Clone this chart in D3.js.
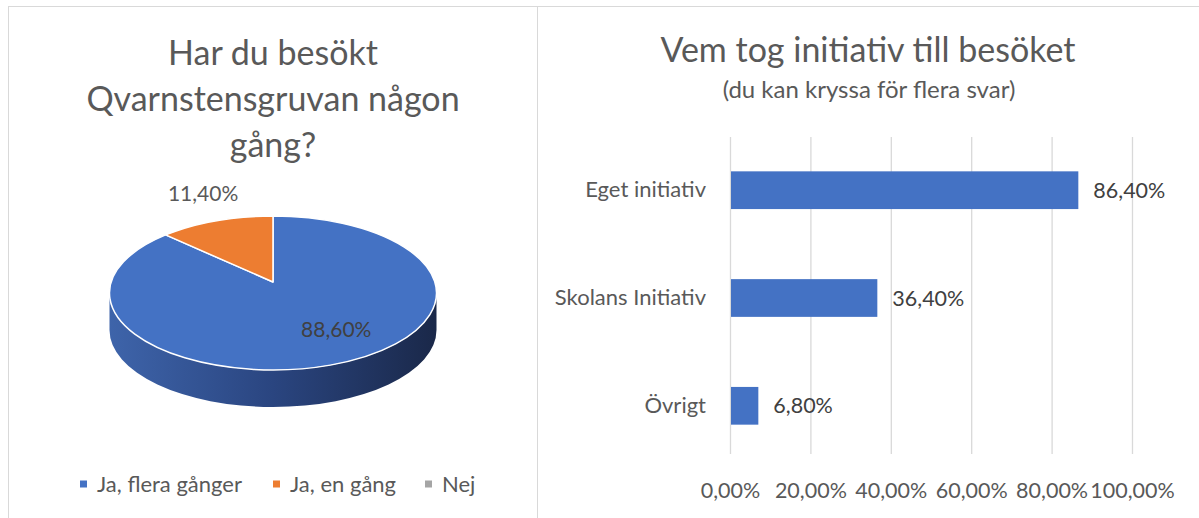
<!DOCTYPE html>
<html>
<head>
<meta charset="utf-8">
<script src="https://cdn.jsdelivr.net/npm/d3@7"></script>
<style>
  body { margin: 0; background: #fff; }
  svg { display: block; font-family: Lato, "Open Sans", sans-serif; }
</style>
</head>
<body>
<script>
// pie data
var pieCategories = ["Ja, flera gånger", "Ja, en gång", "Nej"];
var pieValues = [0.886, 0.114, 0];
var pieColors = ["#4472C4", "#ED7D31", "#A5A5A5"];

// bar data
var barCategories = ["Eget initiativ", "Skolans Initiativ", "Övrigt"];
var barValues = [0.864, 0.364, 0.068];
var tickValues = [0, 0.2, 0.4, 0.6, 0.8, 1.0];

var width = 1199, height = 518;
var textColor = "#595959", lineColor = "#d9d9d9";

var sv = d3.formatLocale({decimal: ",", thousands: " ", grouping: [3], currency: ["", " kr"]});
var pct = sv.format(".2%");

var svg = d3.select("body").append("svg").attr("width", width).attr("height", height);

// ramar
svg.append("line").attr("x1", 8).attr("x2", width).attr("y1", 6.5).attr("y2", 6.5).attr("stroke", lineColor);
svg.append("line").attr("x1", 8.5).attr("x2", 8.5).attr("y1", 6).attr("y2", height).attr("stroke", lineColor);
svg.append("line").attr("x1", 537.5).attr("x2", 537.5).attr("y1", 6).attr("y2", height).attr("stroke", lineColor);

// ---------- vänster: 3D-tårta ----------
var left = svg.append("g");
var titleLines = ["Har du besökt", "Qvarnstensgruvan någon", "gång?"];
left.selectAll("text.title").data(titleLines).enter().append("text")
  .attr("class", "title")
  .attr("x", 273).attr("y", function(d, i) { return 65 + i * 46; })
  .attr("text-anchor", "middle").attr("font-size", 34).attr("fill", textColor)
  .text(function(d) { return d; });

var cx = 273, cy = 293, rx = 163.5, ry = 77, depth = 37, apexY = 282;
var pie = d3.pie().sort(null);
var arcs = pie(pieValues);

var defs = svg.append("defs");
var grad = defs.append("linearGradient").attr("id", "side").attr("x1", "0%").attr("x2", "100%");
grad.append("stop").attr("offset", "0%").attr("stop-color", "#3e64aa");
grad.append("stop").attr("offset", "50%").attr("stop-color", "#2a4580");
grad.append("stop").attr("offset", "100%").attr("stop-color", "#1a2849");

function pt(a, dy) { return [cx + rx * Math.sin(a), cy - ry * Math.cos(a) + dy]; }

// sidan (synlig framkant mellan 90° och 270°)
arcs.forEach(function(a, i) {
  var s = Math.max(a.startAngle, Math.PI / 2), e = Math.min(a.endAngle, 3 * Math.PI / 2);
  if (e <= s) return;
  var p1 = pt(s, 0), p2 = pt(e, 0), p3 = pt(e, depth), p4 = pt(s, depth);
  var dpath = "M" + p1 + "A" + rx + "," + ry + " 0 0 1 " + p2 + "L" + p3 +
              "A" + rx + "," + ry + " 0 0 0 " + p4 + "Z";
  left.append("path").attr("d", dpath).attr("fill", i === 0 ? "url(#side)" : pieColors[i]);
});

// ovansidan, med spetsen lite bakåt (perspektiv)
function slicePath(a) {
  var large = (a.endAngle - a.startAngle) > Math.PI ? 1 : 0;
  return "M" + [cx, apexY] + "L" + pt(a.startAngle, 0) +
         "A" + rx + "," + ry + " 0 " + large + " 1 " + pt(a.endAngle, 0) + "Z";
}
left.append("g").selectAll("path").data(arcs.filter(function(d) { return d.value > 0; })).enter().append("path")
  .attr("d", slicePath)
  .attr("fill", function(d) { return pieColors[d.index]; })
  .attr("stroke", "#fff").attr("stroke-width", 1.5).attr("stroke-linejoin", "round");

// etiketter
var labelRadius = [0.72, 1.36];
arcs.forEach(function(a, i) {
  if (a.value <= 0) return;
  var m = (a.startAngle + a.endAngle) / 2, r = labelRadius[i];
  var lx = cx + rx * r * Math.sin(m) + (i === 0 ? 22 : 8);
  var ly = cy - ry * r * Math.cos(m) + (i === 0 ? -15 : -1);
  left.append("text").attr("x", lx).attr("y", ly).attr("dy", "0.35em")
    .attr("text-anchor", "middle").attr("font-size", 21).attr("fill", i === 0 ? "#404040" : textColor)
    .text(pct(a.value));
});

// legend
var legendX = [80, 273, 425];
var legend = left.selectAll("g.leg").data(pieCategories).enter().append("g")
  .attr("transform", function(d, i) { return "translate(" + legendX[i] + ",484)"; });
legend.append("rect").attr("x", 0).attr("y", -3.5).attr("width", 7).attr("height", 7)
  .attr("fill", function(d, i) { return pieColors[i]; });
legend.append("text").attr("x", 17).attr("dy", "0.35em").attr("font-size", 22).attr("fill", textColor)
  .text(function(d) { return d; });

// ---------- höger: stapeldiagram ----------
var right = svg.append("g");
right.append("text").attr("x", 868).attr("y", 62).attr("text-anchor", "middle")
  .attr("font-size", 34).attr("fill", textColor).text("Vem tog initiativ till besöket");
right.append("text").attr("x", 869).attr("y", 98).attr("text-anchor", "middle")
  .attr("font-size", 24).attr("fill", textColor).text("(du kan kryssa för flera svar)");

var x = d3.scaleLinear().domain([0, 1]).range([730, 1132]);
var y = d3.scaleBand().domain(barCategories).range([139, 457]).paddingInner(0.65).paddingOuter(0.3);

right.append("g").selectAll("line").data(tickValues).enter().append("line")
  .attr("x1", function(d) { return x(d) + 0.5; }).attr("x2", function(d) { return x(d) + 0.5; })
  .attr("y1", 137).attr("y2", 454).attr("stroke", lineColor).attr("stroke-width", 1.3);

right.append("g").selectAll("rect").data(barValues).enter().append("rect")
  .attr("x", x(0) + 1).attr("y", function(d, i) { return y(barCategories[i]); })
  .attr("width", function(d) { return x(d) - x(0); }).attr("height", y.bandwidth())
  .attr("fill", "#4472C4");

right.append("g").selectAll("text").data(barValues).enter().append("text")
  .attr("x", function(d) { return x(d) + 16; })
  .attr("y", function(d, i) { return y(barCategories[i]) + y.bandwidth() / 2; })
  .attr("dy", "0.35em").attr("font-size", 21.5).attr("fill", "#404040")
  .text(function(d) { return pct(d); });

var yAxis = d3.axisLeft(y).tickSize(0).tickPadding(0);
right.append("g").attr("transform", "translate(706,0)").call(yAxis)
  .call(function(g) { g.select(".domain").remove(); })
  .selectAll("text").attr("font-size", 22).attr("fill", textColor).attr("font-family", "Lato, sans-serif");

var xAxis = d3.axisBottom(x).tickValues(tickValues).tickFormat(pct).tickSize(0).tickPadding(0);
right.append("g").attr("transform", "translate(0,483)").call(xAxis)
  .call(function(g) { g.select(".domain").remove(); })
  .selectAll("text").attr("font-size", 21.5).attr("fill", textColor).attr("font-family", "Lato, sans-serif");
</script>
</body>
</html>
